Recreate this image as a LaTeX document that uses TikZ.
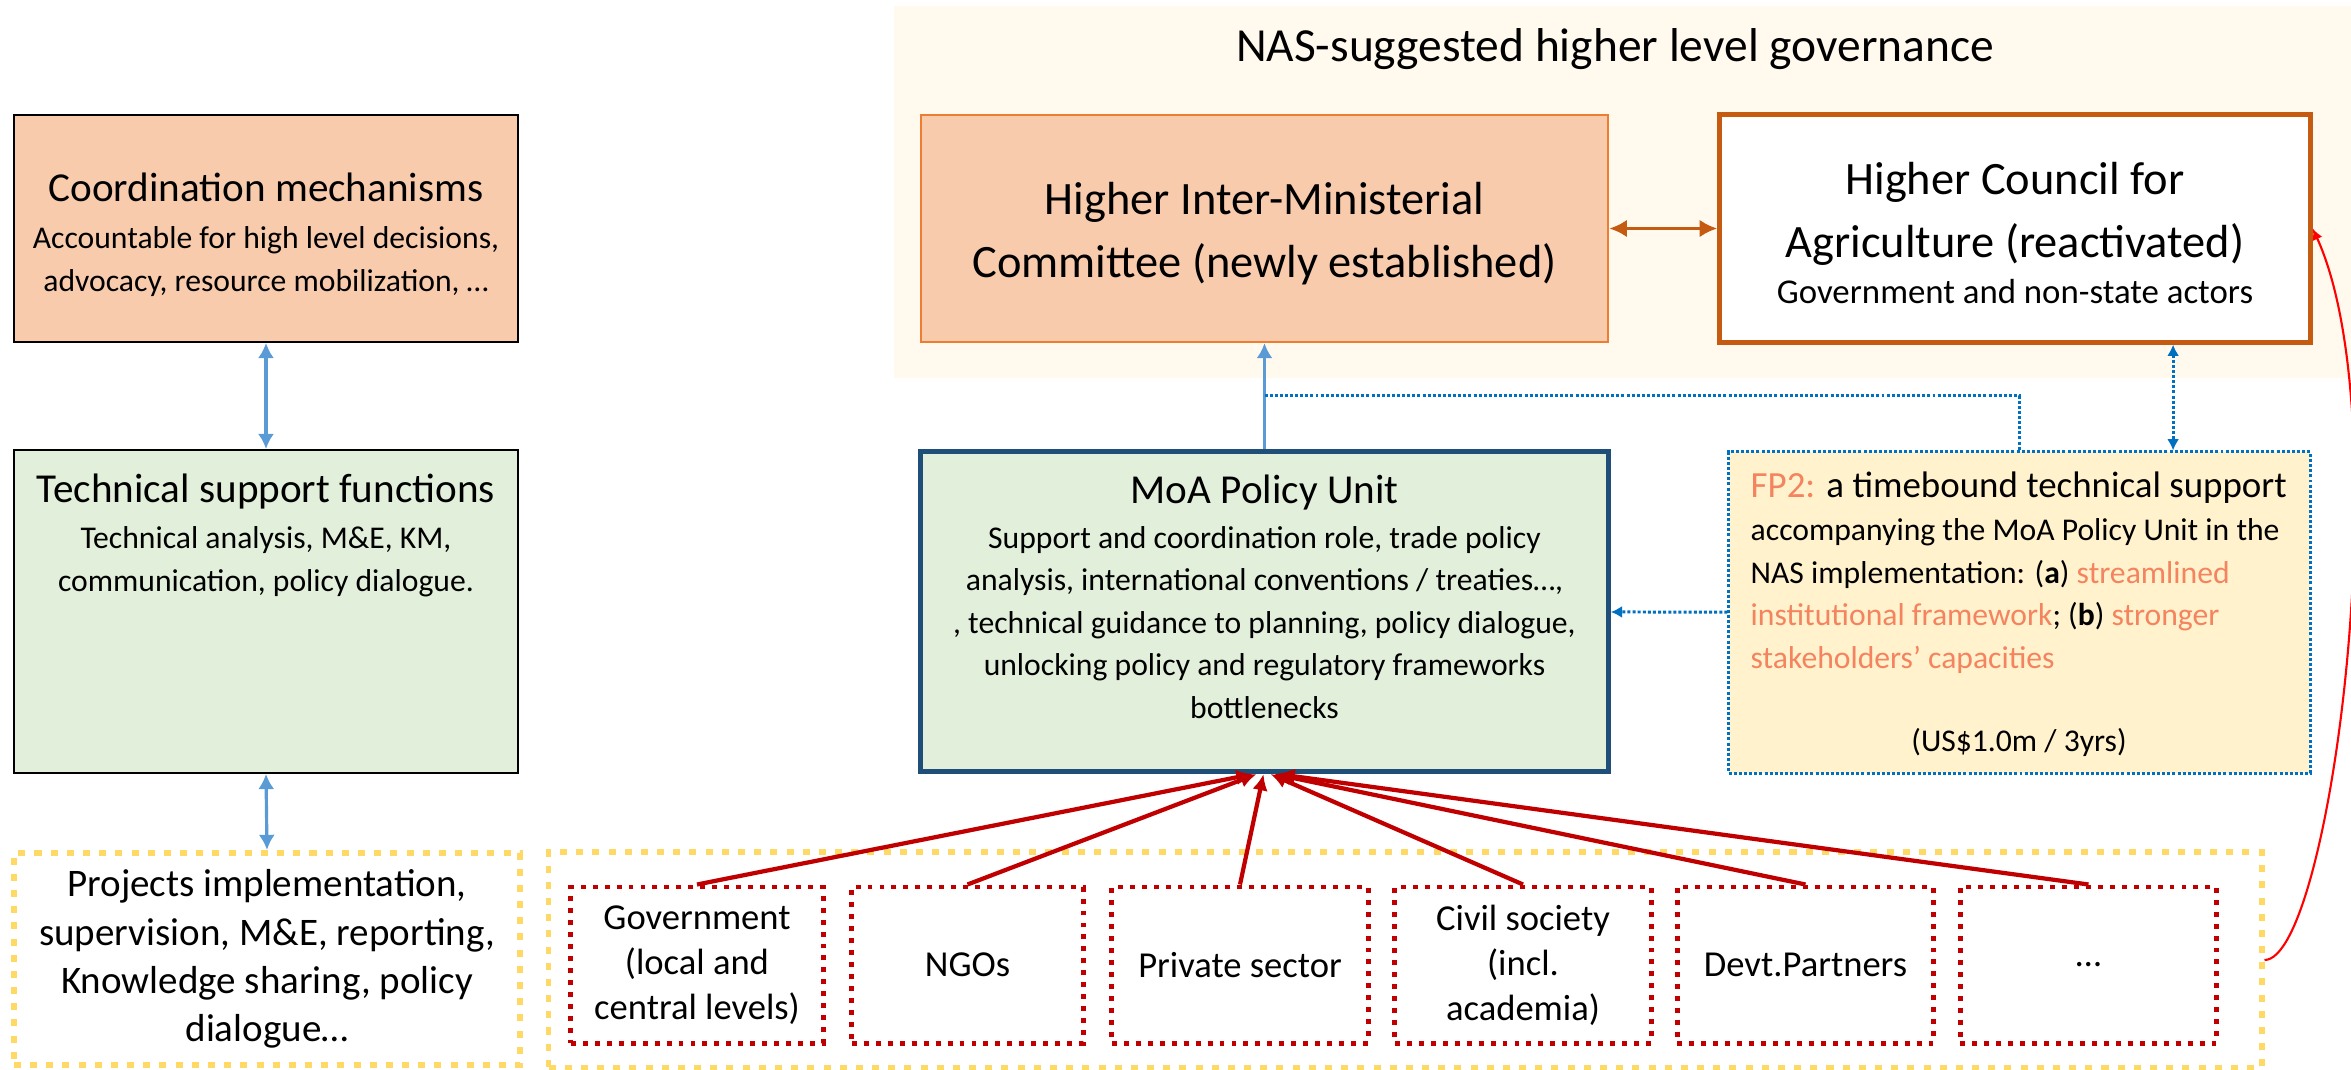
\documentclass[tikz,border=0pt]{standalone}
\usepackage{fontspec}
\setmainfont{Carlito}
\usepackage{xcolor}
\usepackage{tikz}
\usetikzlibrary{calc,positioning,arrows.meta}

\definecolor{peach}{HTML}{F8CBAD}
\definecolor{peachline}{HTML}{ED7D31}
\definecolor{rust}{HTML}{C55A11}
\definecolor{cream}{HTML}{FFF9EE}
\definecolor{mint}{HTML}{E2EFDA}
\definecolor{navy}{HTML}{1F4E79}
\definecolor{butter}{HTML}{FFF2CC}
\definecolor{skyblue}{HTML}{5B9BD5}
\definecolor{dotblue}{HTML}{0070C0}
\definecolor{gold}{HTML}{FFD966}
\definecolor{darkred}{HTML}{C00000}
\definecolor{salmon}{HTML}{F4845F}

\begin{document}
\begin{tikzpicture}[x=0.01cm,y=-0.01cm,
    panel/.style={rectangle,inner sep=0pt,align=center},
    bigtxt/.style={align=center,inner sep=0pt,font=\fontsize{13.2}{17.9}\selectfont},
    headtxt/.style={align=center,inner sep=0pt,font=\fontsize{11.7}{14}\selectfont},
    bodytxt/.style={align=center,inner sep=0pt,font=\fontsize{9}{12.1}\selectfont},
    goldline/.style={draw=gold,line width=1.7pt,dash pattern=on 2pt off 2.6pt},
    bluedot/.style={draw=dotblue,line width=0.85pt,dash pattern=on 0.85pt off 0.6pt,
        >={Latex[length=3.2pt,width=3.4pt]}},
    bluearrow/.style={draw=skyblue,line width=0.9pt,>={Latex[length=4.3pt,width=4.6pt]}},
    redarrow/.style={draw=darkred,line width=1.2pt,-{Latex[length=4.6pt,width=4.4pt]}},
    actor/.style={panel,draw=darkred,line width=1.4pt,dash pattern=on 1.4pt off 2pt,
        minimum width=2.56cm,minimum height=1.56cm,font=\fontsize{10.4}{12.8}\selectfont}]

    \useasboundingbox (0,0) rectangle (2351,1070);

    % higher level governance
    \node[panel,fill=cream,minimum width=14.57cm,minimum height=3.72cm] (nas) at (1622.5,192) {};
    \node[inner sep=0pt,font=\fontsize{13.5}{16}\selectfont] (nastitle) at (1615,49) {NAS-suggested higher level governance};

    \node[panel,fill=peach,draw=peachline,line width=0.6pt,minimum width=6.87cm,minimum height=2.27cm] (imc) at (1264.5,228.5) {};
    \node[bigtxt] (imctxt) at (1264.5,234) {Higher Inter-Ministerial\\Committee (newly established)};

    \node[panel,fill=white,draw=rust,line width=1.45pt,minimum width=5.9cm,minimum height=2.27cm] (council) at (2015,228.5) {};
    \node[bigtxt] (counciltxt) at (2015,213.5) {Higher Council for\\Agriculture (reactivated)};
    \node[inner sep=0pt,font=\fontsize{9.9}{12}\selectfont] (councilsub) at (2015,292) {Government and non-state actors};

    % left column
    \node[panel,fill=peach,draw=black,line width=0.5pt,minimum width=5.04cm,minimum height=2.27cm] (coord) at (266,228.5) {};
    \node[headtxt] (coordtxt) at (266,187) {Coordination mechanisms};
    \node[bodytxt] (coordsub) at (266,261.5) {Accountable for high level decisions,\\advocacy, resource mobilization, …};

    \node[panel,fill=mint,draw=black,line width=0.5pt,minimum width=5.04cm,minimum height=3.23cm] (tech) at (266,611.5) {};
    \node[headtxt] (techtxt) at (266,491.5) {Technical support functions};
    \node[bodytxt] (techsub) at (266,561.5) {Technical analysis, M\&E, KM,\\communication, policy dialogue.};

    \node[panel,goldline,minimum width=5.06cm,minimum height=2.12cm,font=\fontsize{11.1}{13.7}\selectfont] (proj) at (267,959)
        {Projects implementation,\\supervision, M\&E, reporting,\\Knowledge sharing, policy\\dialogue…};

    % policy unit and FP2
    \node[panel,fill=mint,draw=navy,line width=1.45pt,minimum width=6.87cm,minimum height=3.2cm] (moa) at (1264.5,611.5) {};
    \node[headtxt] (moatxt) at (1264.5,492.5) {MoA Policy Unit};
    \node[bodytxt] (moasub) at (1264.5,622.5) {Support and coordination role, trade policy\\analysis, international conventions / treaties…,\\, technical guidance to planning, policy dialogue,\\unlocking policy and regulatory frameworks\\bottlenecks};

    \node[panel,fill=butter,bluedot,minimum width=5.81cm,minimum height=3.21cm] (fp2) at (2019.5,612.5) {};
    \node[anchor=base west,inner sep=0pt,font=\fontsize{10.5}{13}\selectfont] (fp2txt) at (1750,497) {\textcolor{salmon}{FP2:} a timebound technical support};
    \node[bodytxt,align=left,anchor=north west] (fp2sub) at (1750,518)
        {accompanying the MoA Policy Unit in the\\
         NAS implementation: (\textbf{a}) \textcolor{salmon}{streamlined}\\
         \textcolor{salmon}{institutional framework}; (\textbf{b}) \textcolor{salmon}{stronger}\\
         \textcolor{salmon}{stakeholders’ capacities}};
    \node[bodytxt] (fp2fund) at (2019,742) {(US\$1.0m / 3yrs)};

    % stakeholders
    \node[panel,goldline,minimum width=17.12cm,minimum height=2.16cm] (actors) at (1405,960) {};
    \node[actor,minimum width=2.52cm] (gov) at (697,965) {Government\\(local and\\central levels)};
    \node[actor,minimum width=2.31cm] (ngo) at (967.5,965) {NGOs};
    \node[actor] (priv) at (1240,965) {Private sector};
    \node[actor] (civil) at (1523,965) {Civil society\\(incl.\\academia)};
    \node[actor] (devt) at (1805.5,965) {Devt.Partners};
    \node[actor] (more) at (2088.5,965) {…};

    % links
    \draw[bluearrow,<->] (coord) -- (tech);
    \draw[bluearrow,<->] (tech.south) -- (proj.north);
    \draw[bluearrow,line width=1.1pt,->] (moa) -- (imc);
    \draw[rust,line width=1.1pt,{Latex[length=5pt,width=5pt]}-{Latex[length=5pt,width=5pt]}] (imc) -- (council);

    \coordinate (split) at ($(moa.north)!0.5!(imc.south)$);
    \draw[bluedot] (split) -| (fp2.north);
    \coordinate (cfoot) at ([xshift=1.58cm]council.south);
    \draw[bluedot,<->] (cfoot) -- (cfoot |- fp2.north);
    \draw[bluedot,->] (fp2) -- (moa);

    \foreach \src/\dx in {gov/-12,ngo/-8,priv/-1,civil/6,devt/10,more/14}
        \draw[redarrow] (\src.north) -- ($(moa.south)+(\dx,0)$);

    \draw[red,line width=0.6pt,-{Latex[length=3.2pt,width=3pt]}] (actors.east) .. controls (2330,960) and (2400,420) .. (council.east);
\end{tikzpicture}
\end{document}
